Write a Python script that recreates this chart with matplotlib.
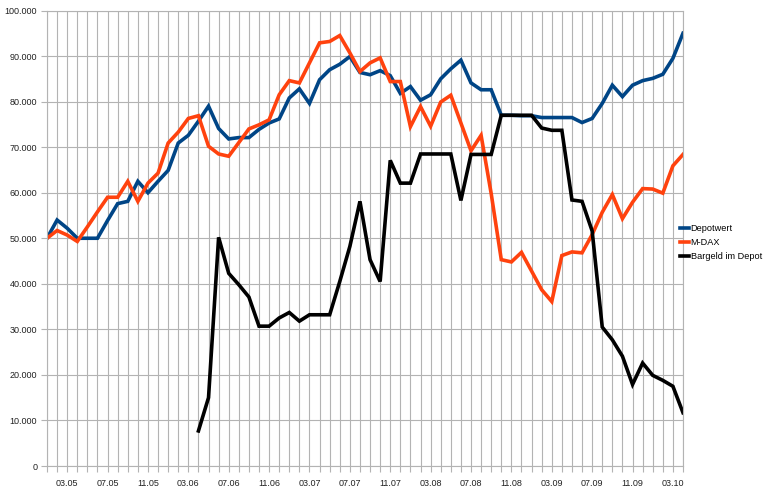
import matplotlib
matplotlib.use("Agg")
import matplotlib.pyplot as plt
import numpy as np
from matplotlib.ticker import FuncFormatter, FixedLocator

plt.rcParams['font.family'] = ['Liberation Sans', 'DejaVu Sans']

# monthly values, 01.05 .. 04.10 (in thousands)
depotwert = [50.0, 54.0, 52.2, 50.0, 50.0, 50.0, 53.9, 57.6, 58.1, 62.5,
             60.0, 62.5, 64.9, 70.9, 72.6, 75.7, 79.0, 74.1, 71.8, 72.1,
             72.1, 73.9, 75.3, 76.2, 80.8, 82.8, 79.6, 84.8, 87.0, 88.2,
             89.9, 86.4, 85.9, 86.8, 85.7, 81.8, 83.3, 80.3, 81.5, 85.0,
             87.2, 89.1, 84.1, 82.6, 82.6, 77.0, 77.0, 76.9, 76.9, 76.5,
             76.5, 76.5, 76.5, 75.4, 76.3, 79.6, 83.6, 81.1, 83.6, 84.6,
             85.1, 86.0, 89.5, 95.0]
mdax = [50.0, 51.7, 50.7, 49.3, 52.5, 55.8, 59.0, 59.0, 62.5, 58.1,
        62.1, 64.3, 70.9, 73.3, 76.3, 76.9, 70.2, 68.5, 68.0, 71.0,
        74.0, 74.9, 76.0, 81.5, 84.6, 84.1, 88.5, 92.9, 93.2, 94.5,
        90.7, 86.6, 88.5, 89.6, 84.4, 84.4, 74.5, 78.9, 74.6, 79.9,
        81.4, 75.3, 69.2, 72.6, 59.8, 45.3, 44.8, 46.9, 42.8, 38.7,
        36.1, 46.2, 47.0, 46.8, 50.8, 55.7, 59.6, 54.3, 57.9, 60.9,
        60.8, 59.9, 65.9, 68.4]
bargeld = [np.nan] * 15 + [
    7.7, 15.0, 50.2, 42.3, 39.8, 37.1, 30.7, 30.7, 32.5, 33.7,
    31.8, 33.2, 33.2, 33.2, 40.5, 48.2, 58.1, 45.3, 40.5, 67.1,
    62.1, 62.1, 68.5, 68.5, 68.5, 68.5, 58.3, 68.4, 68.4, 68.4,
    77.0, 77.0, 77.0, 77.0, 74.2, 73.7, 73.7, 58.4, 58.1, 51.6,
    30.5, 27.7, 24.1, 17.9, 22.6, 19.9, 18.8, 17.5, 11.7]

tick_pos = [2, 6, 10, 14, 18, 22, 26, 30, 34, 38, 42, 46, 50, 54, 58, 62]
tick_labels = ["03.05", "07.05", "11.05", "03.06", "07.06", "11.06",
               "03.07", "07.07", "11.07", "03.08", "07.08", "11.08",
               "03.09", "07.09", "11.09", "03.10"]

x = np.arange(len(depotwert))
scale = 1000

fig = plt.figure(figsize=(7.7, 4.92), dpi=100)
ax = fig.add_axes([47 / 770, 26 / 492, 636 / 770, 455.5 / 492])

ax.plot(x, np.array(depotwert) * scale, color="#004586", lw=2.6, label="Depotwert",
        solid_joinstyle="miter")
ax.plot(x, np.array(mdax) * scale, color="#ff420e", lw=2.6, label="M-DAX",
        solid_joinstyle="miter")
ax.plot(x, np.array(bargeld) * scale, color="#000000", lw=2.6, label="Bargeld im Depot",
        solid_joinstyle="miter")

ax.set_xlim(0, len(x) - 1)
ax.set_ylim(0, 100000)
ax.set_yticks(np.arange(0, 100001, 10000))
ax.yaxis.set_major_formatter(FuncFormatter(lambda v, p: f"{v:,.0f}".replace(",", ".")))

ax.set_xticks(tick_pos)
ax.set_xticklabels(tick_labels)
ax.xaxis.set_minor_locator(FixedLocator(x))

# grid: every month vertically, every 10.000 horizontally
for xi in x:
    ax.axvline(xi, color="#b3b3b3", lw=0.8, zorder=0)
ax.yaxis.grid(True, color="#b3b3b3", lw=0.8)
ax.set_axisbelow(True)

for s in ax.spines.values():
    s.set_color("#b3b3b3")
    s.set_linewidth(0.8)

ax.tick_params(axis="both", which="both", labelsize=6.5, colors="#b3b3b3",
               labelcolor="#222222", width=0.8)
ax.tick_params(axis="x", which="both", length=4, pad=5)
ax.tick_params(axis="y", length=4, pad=3)

fig.legend(loc="upper left", bbox_to_anchor=(680 / 770, 1 - 224 / 492),
           frameon=False, fontsize=6.6, handlelength=1.0, handletextpad=0.15,
           labelspacing=0.55, borderpad=0, borderaxespad=0)

plt.savefig("out.png", dpi=100)
